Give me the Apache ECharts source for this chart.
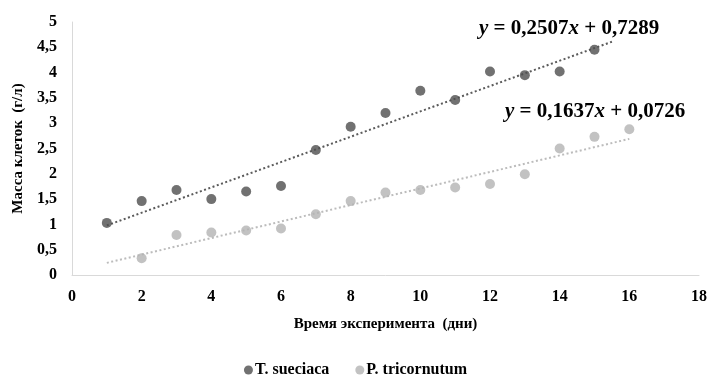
<!DOCTYPE html>
<html>
<head>
<meta charset="utf-8">
<script src="https://cdn.jsdelivr.net/npm/echarts@6/dist/echarts.min.js"></script>
<style>
    html, body { margin: 0; padding: 0; background: #fff; }
    #chart { width: 711px; height: 379px; }
</style>
</head>
<body>
<div id="chart"></div>
<script>
// данные
var days = [1, 2, 3, 4, 5, 6, 7, 8, 9, 10, 11, 12, 13, 14, 15, 16];
var sueciaca = [1.03, 1.46, 1.68, 1.50, 1.65, 1.76, 2.47, 2.93, 3.20, 3.64, 3.46, 4.02, 3.95, 4.02, 4.45];
var tricornutum = [null, 0.33, 0.79, 0.84, 0.88, 0.92, 1.20, 1.46, 1.63, 1.68, 1.73, 1.80, 1.99, 2.50, 2.73, 2.88];
// концы линий тренда
var trendSueciaca = [[1, 0.98], [15.5, 4.61]];
var trendTricornutum = [[1, 0.24], [16, 2.69]];
var xTicks = [0, 18, 2];
var yTicks = [0, 5, 0.5];
var seriesNames = ['T. sueciaca', 'P. tricornutum'];
var eqSueciaca = ['0,2507', '0,7289'];
var eqTricornutum = ['0,1637', '0,0726'];

var darkColor = '#4d4d4d';
var lightColor = '#b3b3b3';
var font = 'Liberation Serif';

function pairs(xs, ys) {
    var out = [];
    for (var i = 0; i < ys.length; i++) {
        if (ys[i] != null) out.push([xs[i], ys[i]]);
    }
    return out;
}

function eqText(k, b) {
    return '{i|y}{n| = ' + k + '}{i|x}{n| + ' + b + '}';
}
var eqRich = {
    i: { font: 'italic bold 21px "Liberation Serif"', fill: '#000' },
    n: { font: 'bold 21px "Liberation Serif"', fill: '#000' }
};

var chart = echarts.init(document.getElementById('chart'));
var option = {
    animation: false,
    backgroundColor: '#fff',
    grid: { left: 72, right: 12, top: 22, bottom: 104 },
    legend: {
        data: seriesNames,
        top: 362,
        left: 'center',
        padding: 0,
        itemWidth: 9,
        itemHeight: 9,
        itemGap: 26,
        icon: 'circle',
        textStyle: { fontFamily: font, fontSize: 16, fontWeight: 'bold', color: '#000', padding: [0, 0, 0, -3] }
    },
    xAxis: {
        type: 'value',
        min: xTicks[0], max: xTicks[1], interval: xTicks[2],
        name: 'Время эксперимента  (дни)',
        nameLocation: 'middle',
        nameGap: 42,
        nameTextStyle: { fontFamily: font, fontSize: 15, fontWeight: 'bold', color: '#000' },
        axisLine: { lineStyle: { color: '#d9d9d9', width: 1 } },
        axisTick: { show: false },
        splitLine: { show: false },
        axisLabel: { fontFamily: font, fontSize: 16, fontWeight: 'bold', color: '#000', margin: 14 }
    },
    yAxis: {
        type: 'value',
        min: yTicks[0], max: yTicks[1], interval: yTicks[2],
        name: 'Масса клеток  (г/л)',
        nameLocation: 'middle',
        nameGap: 40,
        nameTextStyle: { fontFamily: font, fontSize: 15, fontWeight: 'bold', color: '#000' },
        axisLine: { show: true, lineStyle: { color: '#d9d9d9', width: 1 } },
        axisTick: { show: false },
        splitLine: { show: false },
        axisLabel: {
            fontFamily: font, fontSize: 16, fontWeight: 'bold', color: '#000', margin: 15,
            formatter: function (v) { return String(v).replace('.', ','); }
        }
    },
    series: [
        {
            name: seriesNames[0] + ' trend',
            type: 'line',
            data: trendSueciaca,
            symbol: 'none',
            silent: true,
            lineStyle: { color: '#5a5a5a', width: 2, type: [2, 2.5] },
            z: 1
        },
        {
            name: seriesNames[1] + ' trend',
            type: 'line',
            data: trendTricornutum,
            symbol: 'none',
            silent: true,
            lineStyle: { color: '#bcbcbc', width: 2, type: [2, 2.5] },
            z: 1
        },
        {
            name: seriesNames[0],
            type: 'scatter',
            data: pairs(days, sueciaca),
            symbolSize: 10,
            itemStyle: { color: darkColor },
            z: 3
        },
        {
            name: seriesNames[1],
            type: 'scatter',
            data: pairs(days, tricornutum),
            symbolSize: 10,
            itemStyle: { color: lightColor },
            z: 3
        }
    ],
    graphic: [
        {
            type: 'text', left: 479, top: 18, z: 10,
            style: { text: eqText(eqSueciaca[0], eqSueciaca[1]), rich: eqRich, font: 'bold 21px "Liberation Serif"' }
        },
        {
            type: 'text', left: 505, top: 101, z: 10,
            style: { text: eqText(eqTricornutum[0], eqTricornutum[1]), rich: eqRich, font: 'bold 21px "Liberation Serif"' }
        }
    ]
};
chart.setOption(option);
</script>
</body>
</html>
